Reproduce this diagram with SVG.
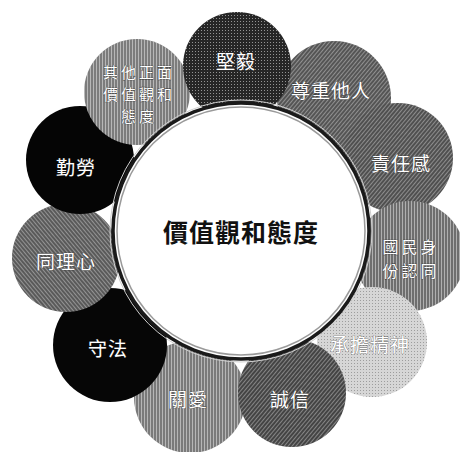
<svg xmlns="http://www.w3.org/2000/svg" width="460" height="452" viewBox="0 0 460 452">
<style>
.lbl{font-family:"Noto Sans CJK TC","Noto Sans CJK SC",sans-serif;font-size:19px;fill:#ffffff;stroke:#333;stroke-width:0.6px;paint-order:stroke;text-anchor:middle;dominant-baseline:central;letter-spacing:1px}
.ml{font-size:16px;letter-spacing:3px}
.ml2{font-size:15px;letter-spacing:3px}
.lblL{stroke:#666}
.ctr{font-family:"Noto Sans CJK TC","Noto Sans CJK SC",sans-serif;font-size:25px;font-weight:bold;fill:#111;text-anchor:middle;dominant-baseline:central;letter-spacing:1px}
.ring1{fill:#fff;stroke:#1a1a1a;stroke-width:3.5}
.ring2{fill:none;stroke:#9a9a9a;stroke-width:1.5}
.ring3{fill:none;stroke:#cfcfcf;stroke-width:1}
</style>
<defs>
<pattern id="hd" width="3" height="3" patternUnits="userSpaceOnUse" patternTransform="rotate(40)">
<rect width="1" height="3" fill="#fff" fill-opacity="0.35"/>
</pattern>
<pattern id="hd2" width="3" height="3" patternUnits="userSpaceOnUse" patternTransform="rotate(-40)">
<rect width="1" height="3" fill="#fff" fill-opacity="0.35"/>
</pattern>
<pattern id="hv" width="3" height="3" patternUnits="userSpaceOnUse">
<rect width="1" height="3" fill="#fff" fill-opacity="0.45"/>
</pattern>
<pattern id="dots" width="3" height="3" patternUnits="userSpaceOnUse">
<rect width="1" height="1" fill="#fff" fill-opacity="0.5"/>
</pattern>
<pattern id="ldots" width="3" height="3" patternUnits="userSpaceOnUse">
<rect width="1" height="1" fill="#777" fill-opacity="0.6"/>
</pattern>
</defs>
<g id="n-respect">
<circle cx="334" cy="98" r="57" fill="#555"/><circle cx="334" cy="98" r="57" fill="url(#hd)"/>
<text class="lbl" x="331" y="89">尊重他人</text>
</g>
<g id="n-responsibility">
<circle cx="398" cy="158" r="55" fill="#505050"/><circle cx="398" cy="158" r="55" fill="url(#hd)"/>
<text class="lbl" x="401" y="162">責任感</text>
</g>
<g id="n-identity">
<circle cx="410" cy="256" r="55" fill="#6e6e6e"/><circle cx="410" cy="256" r="55" fill="url(#hv)"/>
<text class="lbl ml" x="411" y="246">國民身</text>
<text class="lbl ml" x="411" y="270">份認同</text>
</g>
<g id="n-commitment">
<circle cx="372" cy="342" r="55" fill="#d6d6d6"/><circle cx="372" cy="342" r="55" fill="url(#ldots)"/>
<text class="lbl lblL" x="370" y="343">承擔精神</text>
</g>
<g id="n-care">
<circle cx="190" cy="397" r="56" fill="#7a7a7a"/><circle cx="190" cy="397" r="56" fill="url(#hv)"/>
<text class="lbl" x="188" y="398">關愛</text>
</g>
<g id="n-integrity">
<circle cx="292" cy="393" r="54" fill="#444"/><circle cx="292" cy="393" r="54" fill="url(#hd)"/>
<text class="lbl" x="290" y="398">誠信</text>
</g>
<g id="n-law">
<circle cx="110" cy="345" r="57" fill="#060606"/>
<text class="lbl" x="108" y="347">守法</text>
</g>
<g id="n-empathy">
<circle cx="66" cy="258" r="54" fill="#5a5a5a"/><circle cx="66" cy="258" r="54" fill="url(#hd2)"/>
<text class="lbl" x="66" y="260">同理心</text>
</g>
<g id="n-diligence">
<circle cx="80" cy="160" r="54" fill="#050505"/>
<text class="lbl" x="76" y="166">勤勞</text>
</g>
<g id="n-others">
<circle cx="137" cy="92" r="53" fill="#7c7c7c"/><circle cx="137" cy="92" r="53" fill="url(#hv)"/>
<text class="lbl ml2" x="139" y="71">其他正面</text>
<text class="lbl ml2" x="139" y="93">價值觀和</text>
<text class="lbl ml2" x="139" y="115">態度</text>
</g>
<g id="n-perseverance">
<circle cx="237" cy="66" r="54" fill="#262626"/><circle cx="237" cy="66" r="54" fill="url(#dots)"/>
<text class="lbl" x="236" y="60">堅毅</text>
</g>
<g id="connectors"></g>
<g id="n-center">
<circle class="ring3" cx="241" cy="231" r="131"/>
<circle class="ring1" cx="241" cy="231" r="128"/>
<circle class="ring2" cx="241" cy="231" r="124"/>
<text class="ctr" x="241" y="231">價值觀和態度</text>
</g>
</svg>
